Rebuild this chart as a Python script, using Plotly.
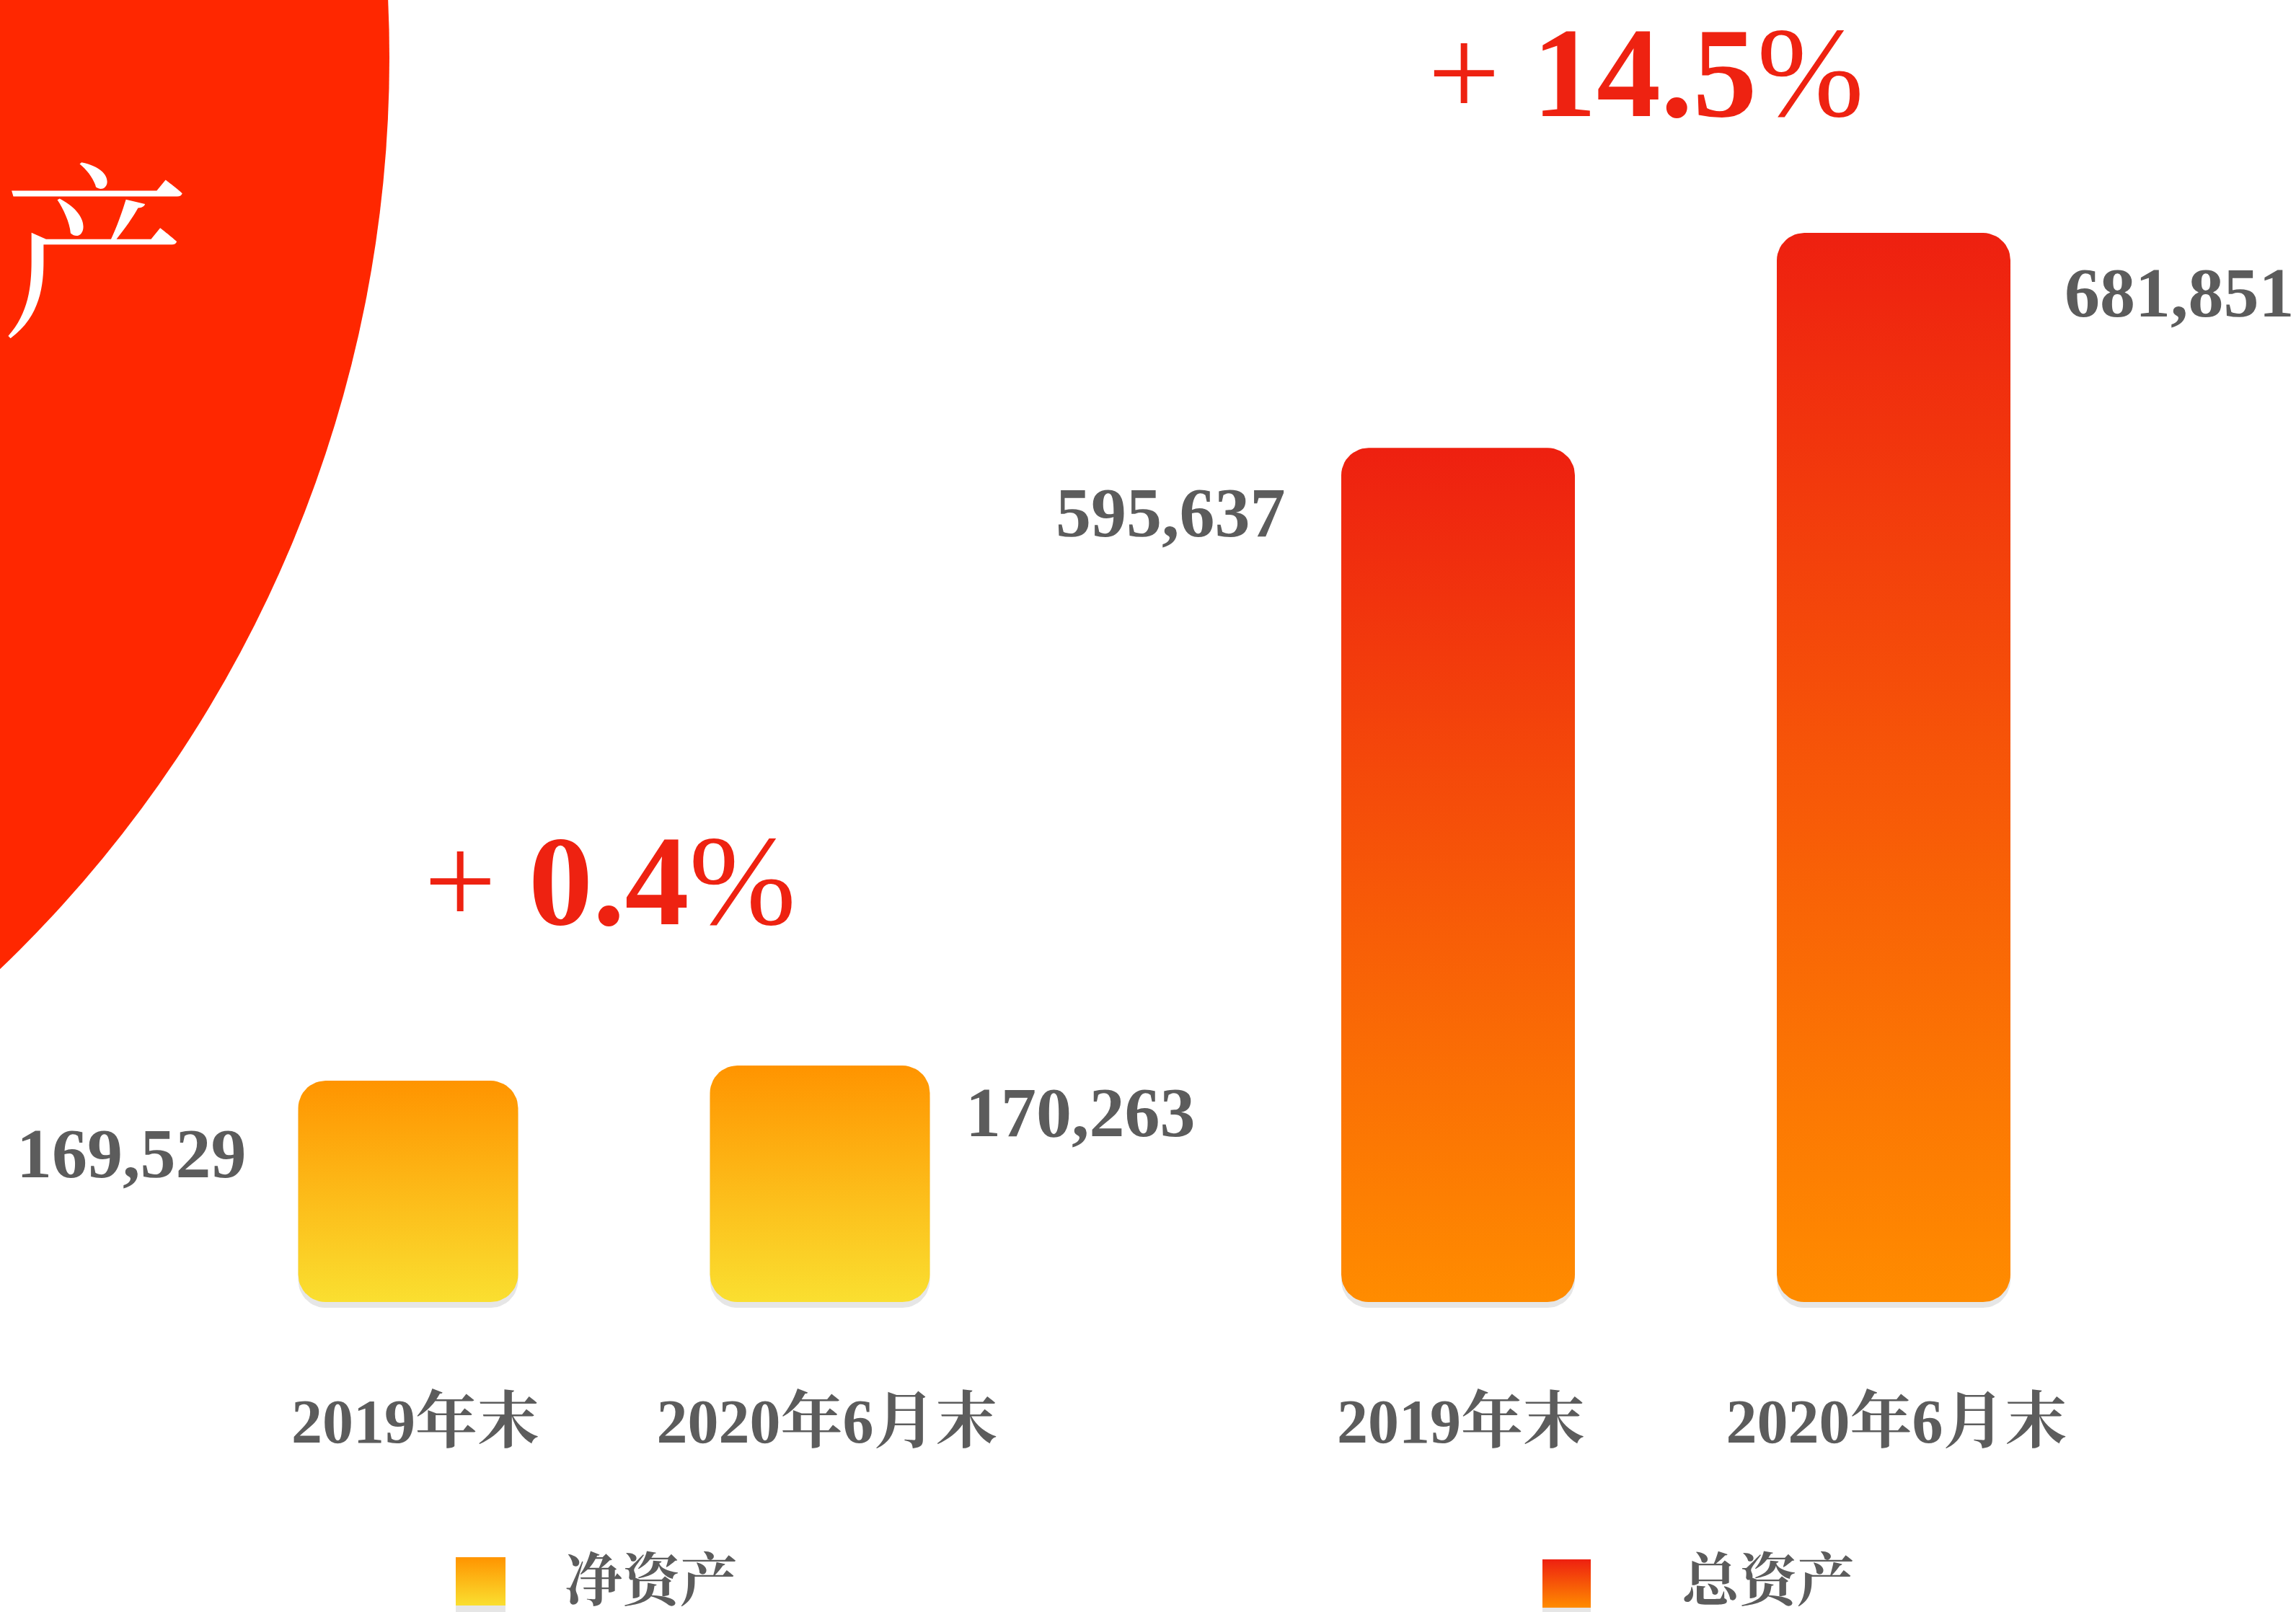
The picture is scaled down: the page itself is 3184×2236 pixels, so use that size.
import numpy as np
import plotly.graph_objects as go

W, H = 3184, 2236

# ---------------- data ----------------
categories = ["2019年末", "2020年6月末"]
net_assets = [169529, 170263]
total_assets = [595637, 681851]
series_names = ["净资产", "总资产"]

# ---------------- style / layout params ----------------
SERIF = "Liberation Serif, 'Noto Serif CJK SC', 'Noto Sans CJK SC', serif"
NET_TOP, NET_BOTTOM = "#FF9400", "#FADF30"
TOT_TOP, TOT_BOTTOM = "#EE2010", "#FF8C00"
RED_TXT = "#EE2211"
GREY_TXT = "#5C5C5C"
CIRCLE = "#FF2700"

BASE_PX = 1806          # pixel row of the bar bottoms
CORNER_PX = 38

# per group: bar centre pixels, bar width px, axis floor value, px per unit
groups = [
    dict(vals=net_assets, cx=[566, 1137], bw=305, floor=158800, ppu=0.02861,
         top=NET_TOP, bottom=NET_BOTTOM, dom=[0.0, 0.5], xa="x", ya="y",
         lab_dx=[-222, 200], lab_dy=[-101, -65], lab_anchor=["right", "left"], tshift=10),
    dict(vals=total_assets, cx=[2022, 2626], bw=324, floor=253000, ppu=0.0034579,
         top=TOT_TOP, bottom=TOT_BOTTOM, dom=[0.5, 1.0], xa="x2", ya="y2",
         lab_dx=[-237, 235], lab_dy=[-90, -83], lab_anchor=["right", "left"], tshift=4),
]


def rrect(xc, hw, y0, y1, rx, ry, n=14):
    corners = [(xc + hw - rx, y1 - ry, 0, 90), (xc - hw + rx, y1 - ry, 90, 180),
               (xc - hw + rx, y0 + ry, 180, 270), (xc + hw - rx, y0 + ry, 270, 360)]
    xs, ys = [], []
    for cx, cy, a0, a1 in corners:
        for t in np.linspace(np.radians(a0), np.radians(a1), n):
            xs.append(cx + rx * np.cos(t))
            ys.append(cy + ry * np.sin(t))
    xs.append(xs[0]); ys.append(ys[0])
    return xs, ys


fig = go.Figure()
layout_axes = {}
annotations = []

for gi, g in enumerate(groups):
    x0px, x1px = g["dom"][0] * W, g["dom"][1] * W
    upx = g["cx"][1] - g["cx"][0]           # pixels per category step
    xr0 = -(g["cx"][0] - x0px) / upx
    xr1 = xr0 + (x1px - x0px) / upx
    yr0 = g["floor"] - (H - BASE_PX) / g["ppu"]
    yr1 = g["floor"] + BASE_PX / g["ppu"]
    hw = g["bw"] / 2 / upx
    rx = CORNER_PX / upx
    ry = CORNER_PX / g["ppu"]
    sh = 8 / g["ppu"]
    for i, v in enumerate(g["vals"]):
        # soft shadow
        sx, sy = rrect(i, hw, g["floor"] - sh, v - sh, rx, ry)
        fig.add_trace(go.Scatter(x=sx, y=sy, fill="toself", mode="lines",
                                 line=dict(width=0), fillcolor="#E6E6E6",
                                 hoverinfo="skip", showlegend=False,
                                 xaxis=g["xa"], yaxis=g["ya"]))
        bx, by = rrect(i, hw, g["floor"], v, rx, ry)
        fig.add_trace(go.Scatter(x=bx, y=by, fill="toself", mode="lines",
                                 line=dict(width=0),
                                 fillgradient=dict(type="vertical",
                                                   colorscale=[[0, g["bottom"]], [1, g["top"]]]),
                                 hoverinfo="skip", showlegend=False,
                                 xaxis=g["xa"], yaxis=g["ya"]))
        annotations.append(dict(x=i, y=v, xref=g["xa"], yref=g["ya"],
                                text=f"<b>{v:,}</b>", showarrow=False,
                                xanchor=g["lab_anchor"][i], yanchor="middle",
                                xshift=g["lab_dx"][i], yshift=g["lab_dy"][i],
                                font=dict(family=SERIF, size=98, color=GREY_TXT)))
    sfx = "" if gi == 0 else "2"
    layout_axes["xaxis" + sfx] = dict(domain=g["dom"], range=[xr0, xr1],
                                      tickvals=[0, 1], ticktext=categories,
                                      anchor="free", position=1 - BASE_PX / H,
                                      showgrid=False, zeroline=False, showline=False,
                                      ticks="", ticklabelstandoff=108,
                                      ticklabelshift=g["tshift"],
                                      tickfont=dict(family=SERIF, size=86,
                                                    color=GREY_TXT, weight="bold"))
    layout_axes["yaxis" + sfx] = dict(domain=[0, 1], range=[yr0, yr1], visible=False,
                                      anchor=g["xa"])

# growth labels computed from data
growth_net = (net_assets[1] / net_assets[0] - 1) * 100
growth_tot = (total_assets[1] / total_assets[0] - 1) * 100
annotations.append(dict(x=846 / W, y=1 - 1222 / H, xref="paper", yref="paper",
                        text=f"+ <b>{growth_net:.1f}</b>%", showarrow=False,
                        xanchor="center", yanchor="middle",
                        font=dict(family=SERIF, size=178, color=RED_TXT)))
annotations.append(dict(x=2282 / W, y=1, xref="paper", yref="paper",
                        text=f"+ <b>{growth_tot:.1f}</b>%", showarrow=False,
                        xanchor="center", yanchor="top",
                        font=dict(family=SERIF, size=178, color=RED_TXT)))

# legend swatches on an overlay pixel-like axis
legend_items = [(series_names[0], 632, 701, 2160, 2227, NET_TOP, NET_BOTTOM, 903),
                (series_names[1], 2139, 2206, 2163, 2230, TOT_TOP, TOT_BOTTOM, 2452)]
for name, lx0, lx1, ly0, ly1, ctop, cbot, tx in legend_items:
    fig.add_trace(go.Scatter(x=[lx0, lx1, lx1, lx0, lx0],
                             y=[H - ly1, H - ly1, 0, 0, H - ly1],
                             fill="toself", mode="lines", line=dict(width=0),
                             fillcolor="#E6E6E6", hoverinfo="skip", showlegend=False,
                             xaxis="x3", yaxis="y3"))
    fig.add_trace(go.Scatter(x=[lx0, lx1, lx1, lx0, lx0],
                             y=[H - ly1, H - ly1, H - ly0, H - ly0, H - ly1],
                             fill="toself", mode="lines", line=dict(width=0),
                             fillgradient=dict(type="vertical",
                                               colorscale=[[0, cbot], [1, ctop]]),
                             hoverinfo="skip", showlegend=False,
                             xaxis="x3", yaxis="y3"))
    annotations.append(dict(x=tx / W, y=1 - 2193 / H, xref="paper", yref="paper",
                            text=f"<b>{name}</b>", showarrow=False,
                            xanchor="center", yanchor="middle",
                            font=dict(family=SERIF, size=80, color=GREY_TXT)))

layout_axes["xaxis3"] = dict(domain=[0, 1], range=[0, W], visible=False, anchor="y3")
layout_axes["yaxis3"] = dict(domain=[0, 1], range=[0, H], visible=False, anchor="x3")

# decorative circle and clipped title glyph
cxp, cyp, rp = -1210, 80, 1750
shapes = [dict(type="circle", xref="paper", yref="paper", layer="below",
               x0=(cxp - rp) / W, x1=(cxp + rp) / W,
               y0=1 - (cyp + rp) / H, y1=1 - (cyp - rp) / H,
               fillcolor=CIRCLE, line=dict(width=0))]
annotations.append(dict(x=0, y=1 - 334 / H, xref="paper", yref="paper",
                        text="产", showarrow=False, xanchor="left", yanchor="middle",
                        font=dict(family="'Noto Serif CJK SC', 'Noto Sans CJK SC'",
                                  size=262, color="white")))

fig.update_layout(width=W, height=H, margin=dict(l=0, r=0, t=0, b=0),
                  paper_bgcolor="white", plot_bgcolor="rgba(0,0,0,0)",
                  showlegend=False, shapes=shapes, annotations=annotations,
                  **layout_axes)

fig.write_html("out.html", config={"displayModeBar": False},
               post_script="document.body.style.margin='0px';document.body.style.overflow='hidden';")
